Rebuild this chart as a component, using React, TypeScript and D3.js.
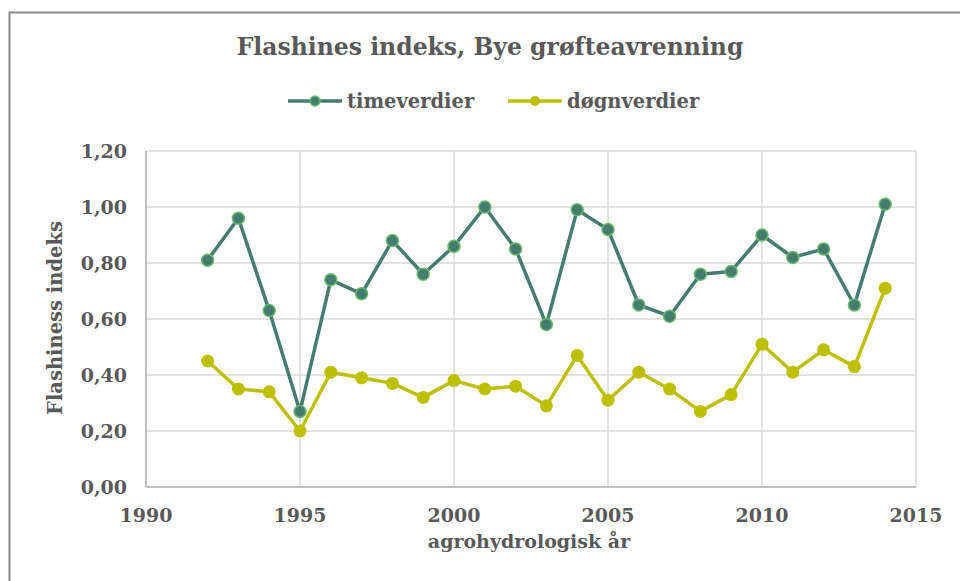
import React from "react";
import * as d3 from "d3";

const years = [1992, 1993, 1994, 1995, 1996, 1997, 1998, 1999, 2000, 2001, 2002, 2003, 2004, 2005, 2006, 2007, 2008, 2009, 2010, 2011, 2012, 2013, 2014];
const timeverdier = [0.81, 0.96, 0.63, 0.27, 0.74, 0.69, 0.88, 0.76, 0.86, 1.0, 0.85, 0.58, 0.99, 0.92, 0.65, 0.61, 0.76, 0.77, 0.9, 0.82, 0.85, 0.65, 1.01];
const dognverdier = [0.45, 0.35, 0.34, 0.2, 0.41, 0.39, 0.37, 0.32, 0.38, 0.35, 0.36, 0.29, 0.47, 0.31, 0.41, 0.35, 0.27, 0.33, 0.51, 0.41, 0.49, 0.43, 0.71];
const xTicks = [1990, 1995, 2000, 2005, 2010, 2015];
const yTicks = [0, 0.2, 0.4, 0.6, 0.8, 1.0, 1.2];

const W = 960;
const H = 581;
const FONT = "'DejaVu Serif', Georgia, serif";
const TEXT = "#595959";
const GREEN = "#467B6F";
const GREEN_EDGE = "#66BB6A";
const YELLOW = "#BDC000";

export default function App() {
  const x = d3.scaleLinear().domain([1990, 2015]).range([146, 916]);
  const y = d3.scaleLinear().domain([0, 1.2]).range([487, 151]);
  const line = d3
    .line<number>()
    .x((_, i) => x(years[i]))
    .y((d) => y(d));
  const fmt = (v: number) => v.toFixed(2).replace(".", ",");

  return (
    <svg width={W} height={H} style={{ position: "absolute", left: 0, top: 0, background: "#fff" }}>
      <rect x={0} y={0} width={W} height={H} fill="#fff" />
      <rect x={9.5} y={12.5} width={1000} height={1000} fill="none" stroke="#8a8a8a" strokeWidth={2} />
      <text x={490} y={55} textAnchor="middle" fontFamily={FONT} fontWeight="bold" fontSize={23.5} fill={TEXT}>
        Flashines indeks, Bye grøfteavrenning
      </text>
      {/* legend */}
      <g fontFamily={FONT} fontWeight="bold" fontSize={19.5} fill={TEXT}>
        <line x1={288} x2={342} y1={101} y2={101} stroke={GREEN} strokeWidth={3.5} />
        <circle cx={315} cy={101} r={5} fill={GREEN} stroke={GREEN_EDGE} strokeWidth={1.5} />
        <text x={347} y={108}>timeverdier</text>
        <line x1={508} x2={562} y1={101} y2={101} stroke={YELLOW} strokeWidth={3.5} />
        <circle cx={535} cy={101} r={5} fill={YELLOW} />
        <text x={567} y={108}>døgnverdier</text>
      </g>
      {/* grid */}
      {yTicks.slice(1).map((t) => (
        <line key={"gy" + t} x1={x(1990)} x2={x(2015)} y1={y(t)} y2={y(t)} stroke="#d9d9d9" strokeWidth={1.5} />
      ))}
      {xTicks.slice(1).map((t) => (
        <line key={"gx" + t} x1={x(t)} x2={x(t)} y1={y(0)} y2={y(1.2)} stroke="#d9d9d9" strokeWidth={1.5} />
      ))}
      {/* axes */}
      <line x1={x(1990)} x2={x(1990)} y1={y(1.2)} y2={y(0)} stroke="#bfbfbf" strokeWidth={2} />
      <line x1={x(1990)} x2={x(2015)} y1={y(0)} y2={y(0)} stroke="#bfbfbf" strokeWidth={2} />
      <g fontFamily={FONT} fontWeight="bold" fontSize={19} fill={TEXT}>
        {yTicks.map((t) => (
          <text key={"ty" + t} x={127} y={y(t) + 7} textAnchor="end">
            {fmt(t)}
          </text>
        ))}
        {xTicks.map((t) => (
          <text key={"tx" + t} x={x(t)} y={522} textAnchor="middle">
            {t}
          </text>
        ))}
      </g>
      <text x={529} y={548} textAnchor="middle" fontFamily={FONT} fontWeight="bold" fontSize={19} fill={TEXT}>
        agrohydrologisk år
      </text>
      <text
        transform={`translate(62,318) rotate(-90)`}
        textAnchor="middle"
        fontFamily={FONT}
        fontWeight="bold"
        fontSize={19.5}
        fill={TEXT}
      >
        Flashiness indeks
      </text>
      {/* series */}
      <path d={line(dognverdier) || ""} fill="none" stroke={YELLOW} strokeWidth={3.5} strokeLinejoin="round" />
      {dognverdier.map((v, i) => (
        <circle key={"d" + i} cx={x(years[i])} cy={y(v)} r={6.5} fill={YELLOW} />
      ))}
      <path d={line(timeverdier) || ""} fill="none" stroke={GREEN} strokeWidth={3.5} strokeLinejoin="round" />
      {timeverdier.map((v, i) => (
        <circle key={"t" + i} cx={x(years[i])} cy={y(v)} r={6} fill={GREEN} stroke={GREEN_EDGE} strokeWidth={1.5} />
      ))}
    </svg>
  );
}
